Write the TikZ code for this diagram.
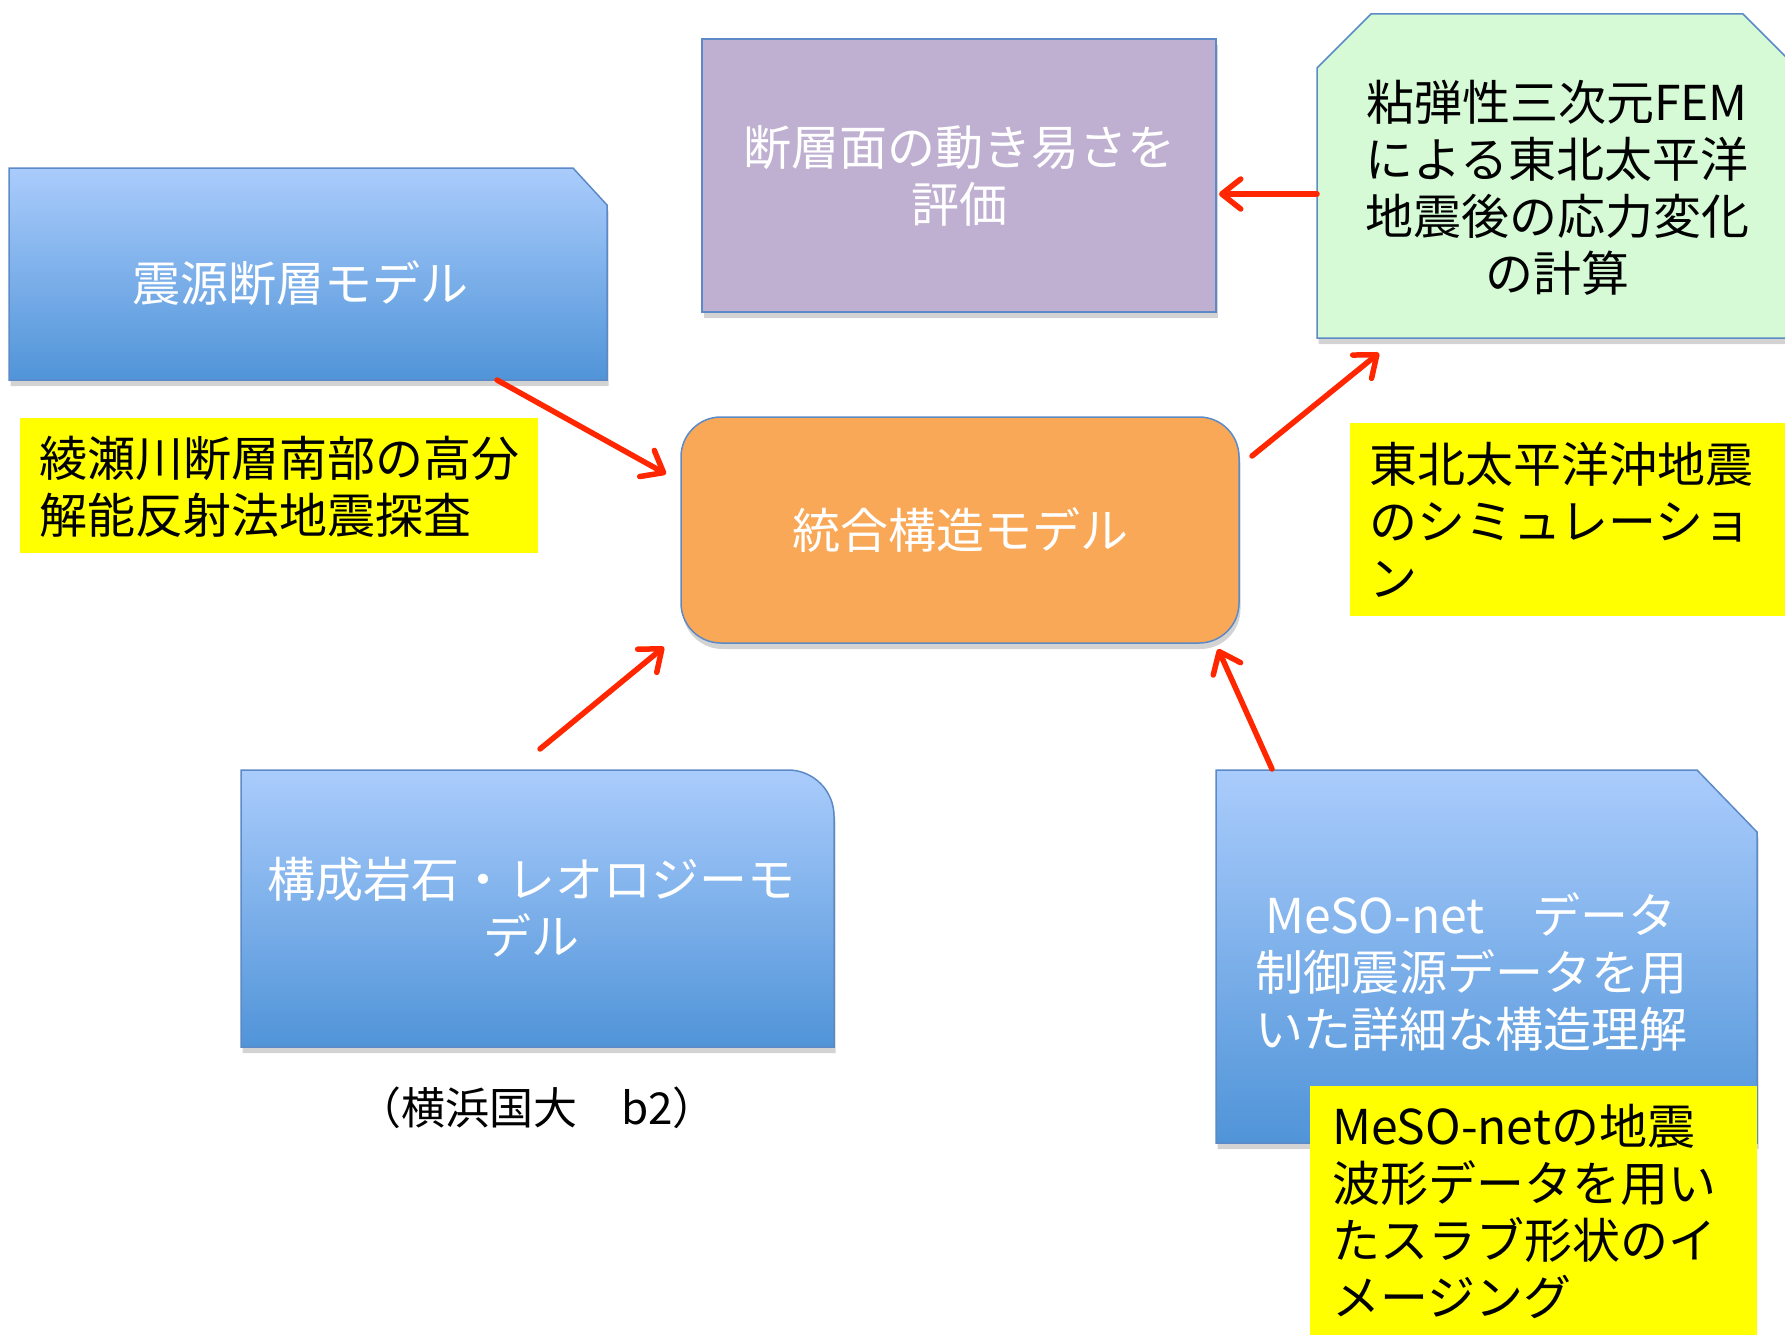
\documentclass[tikz,border=0pt]{standalone}
\usepackage{fontspec}
\setmainfont{Noto Sans CJK JP}
\usetikzlibrary{arrows.meta,shadows}
\definecolor{bluetop}{RGB}{170,204,252}
\definecolor{bluebot}{RGB}{80,148,216}
\definecolor{edgeblue}{RGB}{92,138,198}
\definecolor{purplefill}{RGB}{191,176,209}
\definecolor{greenfill}{RGB}{213,250,213}
\definecolor{orangefill}{RGB}{249,168,88}
\definecolor{arrowred}{RGB}{255,38,0}
\definecolor{yel}{RGB}{255,255,0}
\tikzset{
  region/.style={rectangle, inner sep=0pt, outer sep=0pt},
  boxshadow/.style={drop shadow={opacity=0.35, shadow xshift=1.5pt, shadow yshift=-6pt}},
  bluefill/.style={top color=bluetop, bottom color=bluebot, draw=edgeblue, line width=1.5pt, boxshadow},
  wtext/.style={text=white, font=\fontsize{48pt}{57pt}\selectfont, align=center, inner sep=0pt},
  btext/.style={text=black, font=\fontsize{48pt}{57pt}\selectfont, align=left, inner sep=0pt, anchor=west},
  yellowbox/.style={region, fill=yel},
  link/.style={draw=arrowred, line width=5.5pt, line cap=round, -{Straight Barb[length=19pt,width=30pt,round]}}
}
\begin{document}
\begin{tikzpicture}[x=1pt,y=-1pt]
\useasboundingbox (0,0) rectangle (1785,1335);
\clip (0,0) rectangle (1785,1335);

% box A: source fault model
\node[region, minimum width=598pt, minimum height=212pt] (A) at (308,274) {};
\path[bluefill] (A.south west) -- (A.north west) -- ([xshift=-34pt]A.north east) -- ([yshift=-37pt]A.north east) -- (A.south east) -- cycle;
\node[wtext] (At) at (300,283) {震源断層モデル};

% purple box
\node[region, minimum width=514pt, minimum height=273pt, fill=purplefill, draw=edgeblue, line width=1.5pt, boxshadow, wtext] (B) at (959,175.5) {断層面の動き易さを\\評価};

% green box
\node[region, minimum width=480pt, minimum height=324pt] (G) at (1557,176) {};
\path[fill=greenfill, draw=edgeblue, line width=1.5pt, boxshadow] (G.south west) -- ([yshift=-54pt]G.north west) -- ([xshift=54pt]G.north west) -- ([xshift=-54pt]G.north east) -- ([yshift=-54pt]G.north east) -- (G.south east) -- cycle;
\node[wtext, text=black] (Gt) at (1557,188) {粘弾性三次元FEM\\による東北太平洋\\地震後の応力変化\\の計算};

% orange box
\node[region, minimum width=558pt, minimum height=226pt, rounded corners=40pt, fill=orangefill, draw=edgeblue, line width=1.5pt, boxshadow, wtext] (O) at (960,530) {統合構造モデル};

% box C
\node[region, minimum width=593pt, minimum height=277pt] (C) at (537.5,908.5) {};
\path[bluefill] (C.south west) -- (C.north west) -- ([xshift=-46pt]C.north east) .. controls ([xshift=-20.6pt]C.north east) and ([yshift=-20.6pt]C.north east) .. ([yshift=-46pt]C.north east) -- (C.south east) -- cycle;
\node[wtext] (Ct) at (531,907.5) {構成岩石・レオロジーモ\\デル};

% box D
\node[region, minimum width=541pt, minimum height=373pt] (D) at (1486.5,956.5) {};
\path[bluefill] (D.south west) -- (D.north west) -- ([xshift=-60pt]D.north east) -- ([yshift=-62pt]D.north east) -- (D.south east) -- cycle;
\node[wtext] (Dt) at (1471,972) {MeSO-net　データ\\制御震源データを用\\いた詳細な構造理解};

% caption
\node[inner sep=0pt, font=\fontsize{44pt}{50pt}\selectfont] (cap) at (537,1108) {（横浜国大　b2）};

% connectors
\coordinate (GtoB-s) at (1317,194);
\coordinate (GtoB-e) at (1219,194);
\coordinate (AtoO-s) at (497,380);
\coordinate (AtoO-e) at (666,474);
\coordinate (OtoG-s) at (1252,456);
\coordinate (OtoG-e) at (1379,353);
\coordinate (CtoO-s) at (540,749);
\coordinate (CtoO-e) at (664,647);
\coordinate (DtoO-s) at (1272,769);
\coordinate (DtoO-e) at (1218,649);
\draw[link] (GtoB-s) -- (GtoB-e);
\draw[link] (AtoO-s) -- (AtoO-e);
\draw[link] (OtoG-s) -- (OtoG-e);
\draw[link] (CtoO-s) -- (CtoO-e);
\draw[link] (DtoO-s) -- (DtoO-e);

% yellow labels
\node[yellowbox, minimum width=518pt, minimum height=135pt] (YA) at (279,485.5) {};
\node[btext] (YAt) at (39,486.5) {綾瀬川断層南部の高分\\解能反射法地震探査};
\node[yellowbox, minimum width=440pt, minimum height=193pt] (YB) at (1570,519.5) {};
\node[btext] (YBt) at (1369,520) {東北太平洋沖地震\\のシミュレーショ\\ン};
\node[yellowbox, minimum width=447pt, minimum height=254pt] (YD) at (1533.5,1213) {};
\node[btext] (YDt) at (1332,1211.5) {MeSO-netの地震\\波形データを用い\\たスラブ形状のイ\\メージング};
\end{tikzpicture}
\end{document}
